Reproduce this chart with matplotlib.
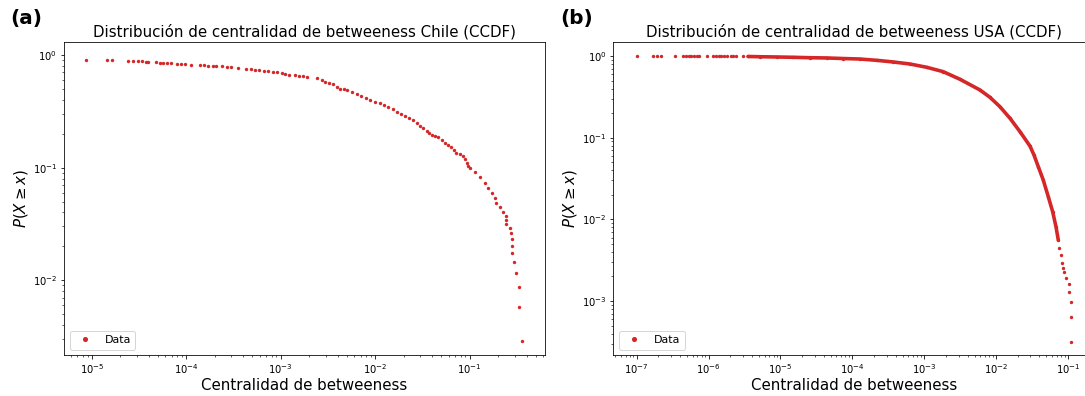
import matplotlib
matplotlib.use("Agg")
import matplotlib.pyplot as plt
import numpy as np

# CCDF of betweenness centrality (log10 values)
chile_log_bc = [-5.062, -4.843, -4.784, -4.621, -4.569, -4.515, -4.470, -4.428, -4.404, -4.325,
                -4.280, -4.245, -4.210, -4.167, -4.096, -4.061, -4.015, -3.955, -3.856, -3.814,
                -3.769, -3.723, -3.687, -3.627, -3.574, -3.531, -3.451, -3.369, -3.320, -3.275,
                -3.232, -3.179, -3.134, -3.087, -3.044, -2.992, -2.956, -2.911, -2.851, -2.805,
                -2.763, -2.720, -2.621, -2.568, -2.534, -2.488, -2.445, -2.403, -2.374, -2.335,
                -2.298, -2.251, -2.198, -2.150, -2.100, -2.057, -2.004, -1.951, -1.909, -1.864,
                -1.817, -1.775, -1.732, -1.687, -1.641, -1.599, -1.563, -1.528, -1.493, -1.457,
                -1.430, -1.404, -1.369, -1.334, -1.298, -1.264, -1.229, -1.193, -1.168, -1.140,
                -1.105, -1.070, -1.052, -1.034, -1.017, -0.999, -0.946, -0.893, -0.840, -0.805,
                -0.759, -0.735, -0.717, -0.682, -0.646, -0.618, -0.618, -0.611, -0.576, -0.558,
                -0.555, -0.551, -0.551, -0.530, -0.505, -0.480, -0.473, -0.449]
chile_log_ccdf = [-0.044, -0.044, -0.046, -0.051, -0.053, -0.053, -0.056, -0.059, -0.062, -0.065,
                  -0.068, -0.071, -0.074, -0.074, -0.077, -0.080, -0.083, -0.086, -0.089, -0.091,
                  -0.095, -0.098, -0.100, -0.100, -0.104, -0.107, -0.113, -0.122, -0.124, -0.130,
                  -0.136, -0.139, -0.145, -0.151, -0.154, -0.163, -0.169, -0.175, -0.180, -0.184,
                  -0.187, -0.193, -0.201, -0.222, -0.237, -0.251, -0.260, -0.282, -0.302, -0.306,
                  -0.311, -0.326, -0.349, -0.365, -0.380, -0.400, -0.415, -0.429, -0.444, -0.459,
                  -0.480, -0.503, -0.524, -0.542, -0.560, -0.577, -0.601, -0.631, -0.651, -0.672,
                  -0.690, -0.710, -0.719, -0.731, -0.755, -0.779, -0.799, -0.814, -0.844, -0.868,
                  -0.882, -0.897, -0.926, -0.962, -0.986, -1.006, -1.036, -1.081, -1.140, -1.184,
                  -1.228, -1.273, -1.312, -1.353, -1.397, -1.430, -1.465, -1.501, -1.539, -1.584,
                  -1.637, -1.694, -1.761, -1.841, -1.939, -2.063, -2.241, -2.540]

# USA: isolated low values, the dense band, and the tail
usa_head_log_bc = [-7.000, -6.773, -6.718, -6.663, -6.461, -6.350, -6.313, -6.275, -6.240, -6.200,
                   -6.165, -6.130, -6.018, -5.935, -5.900, -5.860, -5.823, -5.786, -5.750, -5.695,
                   -5.660, -5.620, -5.520]
usa_head_log_ccdf = [0.000, -0.001, -0.001, -0.001, -0.002, -0.002, -0.002, -0.002, -0.003, -0.003,
                     -0.003, -0.003, -0.003, -0.004, -0.004, -0.004, -0.004, -0.004, -0.005, -0.005,
                     -0.005, -0.005, -0.006]
usa_band_log_bc = [-5.452, -5.285, -5.053, -4.822, -4.590, -4.357, -4.127, -3.894, -3.662, -3.431,
                   -3.199, -2.967, -2.736, -2.503, -2.225, -2.086, -1.947, -1.807, -1.668, -1.530,
                   -1.474, -1.414, -1.345, -1.275, -1.214, -1.168, -1.136]
usa_band_log_ccdf = [-0.006, -0.009, -0.012, -0.016, -0.021, -0.024, -0.031, -0.037, -0.053, -0.073,
                     -0.098, -0.138, -0.192, -0.285, -0.416, -0.506, -0.621, -0.763, -0.927, -1.102,
                     -1.212, -1.355, -1.518, -1.722, -1.906, -2.089, -2.252]
usa_tail_log_bc = [-1.122, -1.103, -1.085, -1.071, -1.057, -1.029, -0.987, -0.992, -0.964, -0.964, -0.955]
usa_tail_log_ccdf = [-2.354, -2.436, -2.530, -2.591, -2.648, -2.714, -2.794, -2.892, -3.015, -3.191, -3.497]

RED = '#d62728'
TITLE = 'Distribución de centralidad de betweeness {} (CCDF)'

chile_x = np.power(10.0, chile_log_bc)
chile_y = np.power(10.0, chile_log_ccdf)
usa_x = np.power(10.0, usa_head_log_bc + usa_band_log_bc + usa_tail_log_bc)
usa_y = np.power(10.0, usa_head_log_ccdf + usa_band_log_ccdf + usa_tail_log_ccdf)
band_x = np.power(10.0, usa_band_log_bc)
band_y = np.power(10.0, usa_band_log_ccdf)

fig = plt.figure(figsize=(1085 / 72, 396 / 72), dpi=72)
ax1 = fig.add_axes([0.0590, 0.1035, 0.4433, 0.7912])
ax2 = fig.add_axes([0.5654, 0.1035, 0.4433, 0.7912])


def style(ax, name):
    ax.set_xscale('log')
    ax.set_yscale('log')
    ax.set_title(TITLE.format(name), fontsize=15, pad=5)
    ax.set_xlabel('Centralidad de betweeness', fontsize=15, labelpad=2)
    ax.set_ylabel(r'$P(X \geq x)$', fontsize=15, labelpad=3)
    ax.tick_params(labelsize=10)
    ax.legend(loc='lower left', fontsize=11, markerscale=1.5)


ax1.plot(chile_x, chile_y, 'o', color=RED, ms=3.4, mew=0, label='Data')
ax1.set_xlim(10 ** -5.295, 10 ** -0.203)
ax1.set_ylim(10 ** -2.664, 10 ** 0.118)
style(ax1, 'Chile')

ax2.plot(band_x, band_y, '-', color=RED, lw=3.6, solid_capstyle='round')
ax2.plot(usa_x, usa_y, 'o', color=RED, ms=3.4, mew=0, label='Data')
ax2.set_xlim(10 ** -7.323, 10 ** -0.633)
ax2.set_ylim(10 ** -3.66, 10 ** 0.175)
style(ax2, 'USA')

fig.text(0.009, 0.953, '(a)', fontsize=20, fontweight='bold', va='center')
fig.text(0.516, 0.953, '(b)', fontsize=20, fontweight='bold', va='center')

fig.savefig('out.png', dpi=72)
